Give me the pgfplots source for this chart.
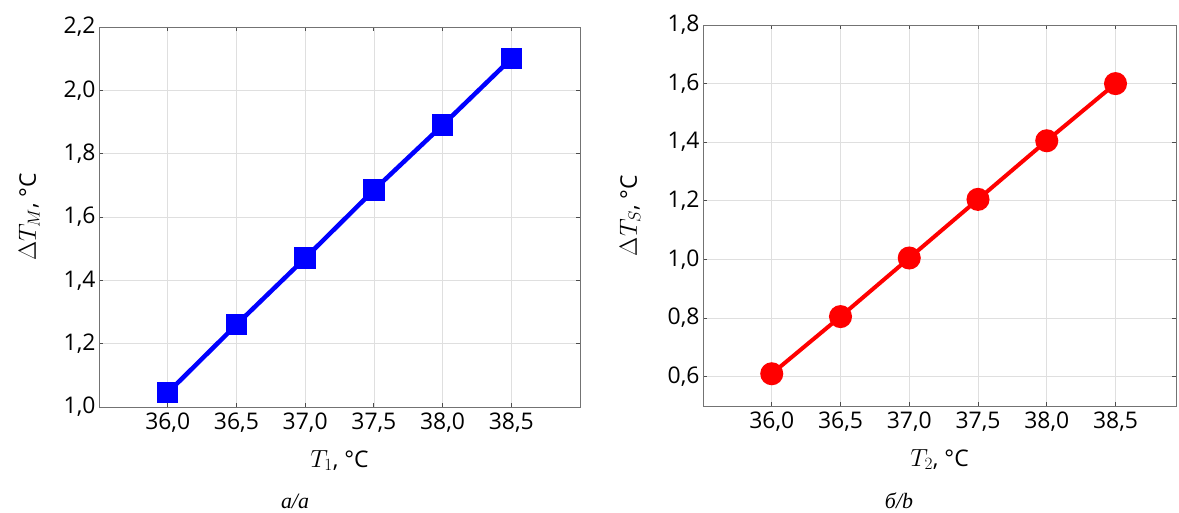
\documentclass[border=0pt]{standalone}
\usepackage{pgfplots}
\pgfplotsset{compat=1.18}
\usepackage{fontspec}
\setmainfont{Open Sans}
\newfontfamily\capfont{Liberation Serif}
\begin{document}
\begin{tikzpicture}
\path[use as bounding box] (0bp,0bp) rectangle (1179bp,513bp);
\pgfplotsset{
  myax/.style={
    scale only axis,
    anchor=south west,
    axis line style={color=gray!90!black, line width=0.9bp},
    grid=major,
    major grid style={color=gray!25, line width=0.7bp},
    tick style={color=black!70, line width=0.9bp},
    major tick length=4bp,
    tick align=inside,
    xtick={36,36.5,37,37.5,38,38.5},
    xmin=35.5,
    font=\fontsize{23}{27}\selectfont,
    /pgf/number format/use comma,
    /pgf/number format/fixed,
    /pgf/number format/fixed zerofill,
    /pgf/number format/precision=1,
    /pgf/number format/assume math mode=true,
    xticklabel style={yshift=-2bp},
    every axis x label/.style={at={(axis description cs:0.5,-0.158)}, anchor=base},
  }
}
\begin{axis}[myax, at={(99bp,106bp)}, width=481bp, height=380bp,
  xmax=39, ymin=1.0, ymax=2.2,
  ytick={1.0,1.2,1.4,1.6,1.8,2.0,2.2},
  xlabel={$T_1$, °C},
  ylabel={$\Delta T_M$, °C},
  every axis y label/.style={at={(axis description cs:-0.145,0.5)}, rotate=90, anchor=center},
]
\addplot[color=blue, line width=4.5bp, mark=square*, mark size=8.5bp, mark options={solid, fill=blue}]
coordinates {(36.0,1.045) (36.5,1.26) (37.0,1.47) (37.5,1.685) (38.0,1.89) (38.5,2.10)};
\end{axis}
\begin{axis}[myax, at={(703bp,107bp)}, width=473bp, height=381bp,
  xmax=38.94, ymin=0.5, ymax=1.8,
  ytick={0.6,0.8,1.0,1.2,1.4,1.6,1.8},
  xlabel={$T_2$, °C},
  ylabel={$\Delta T_S$, °C},
  every axis y label/.style={at={(axis description cs:-0.154,0.5)}, rotate=90, anchor=center},
]
\addplot[color=red, line width=4bp, mark=*, mark size=9.5bp, mark options={solid, fill=red}]
coordinates {(36.0,0.61) (36.5,0.805) (37.0,1.005) (37.5,1.205) (38.0,1.405) (38.5,1.60)};
\end{axis}
\node[anchor=base, font=\capfont\itshape\fontsize{22}{26}\selectfont] at (295bp,5bp) {а/a};
\node[anchor=base, font=\capfont\itshape\fontsize{22}{26}\selectfont] at (899bp,5bp) {б/b};
\end{tikzpicture}
\end{document}
